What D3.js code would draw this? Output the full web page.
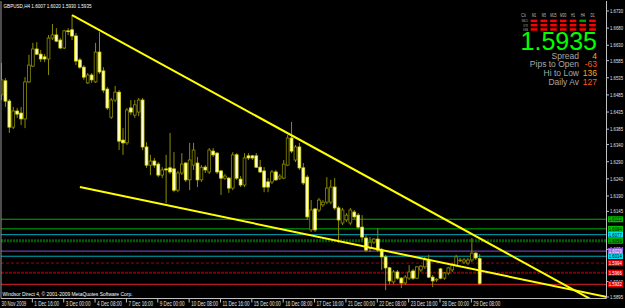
<!DOCTYPE html>
<html><head><meta charset="utf-8">
<script src="https://cdn.jsdelivr.net/npm/d3@7"></script>
<style>html,body{margin:0;padding:0;background:#000;overflow:hidden}svg{display:block}</style>
</head><body>
<svg id="c" width="625" height="308"></svg>
<script>
// ---------- DATA ----------
const symbolTitle = "GBPUSD,H4";
const lastBarText = ["1.6007","1.6020","1.5930","1.5935"];
const open  = [1.6485,1.6526,1.6467,1.6391,1.6438,1.6432,1.6415,1.6523,1.6569,1.6619,1.6604,1.6596,1.6590,1.6651,1.6660,1.6645,1.6622,1.6672,1.6675,1.6657,1.6587,1.6566,1.6520,1.6543,1.6523,1.6610,1.6555,1.6502,1.6420,1.6470,1.6493,1.6353,1.6345,1.6447,1.6426,1.6435,1.6470,1.6333,1.6280,1.6292,1.6283,1.6251,1.6269,1.6272,1.6269,1.6207,1.6257,1.6286,1.6237,1.6280,1.6286,1.6237,1.6274,1.6260,1.6321,1.6315,1.6263,1.6242,1.6242,1.6213,1.6310,1.6239,1.6222,1.6307,1.6307,1.6307,1.6274,1.6263,1.6231,1.6231,1.6260,1.6242,1.6242,1.6280,1.6359,1.6295,1.6333,1.6272,1.6245,1.6091,1.6152,1.6149,1.6164,1.6172,1.6172,1.6216,1.6155,1.6111,1.6120,1.6111,1.6143,1.6134,1.6099,1.6067,1.6038,1.6055,1.6064,1.6032,1.6012,1.5980,1.5939,1.5968,1.5950,1.5936,1.5950,1.5971,1.5950,1.5974,1.5983,1.6003,1.5953,1.5947,1.5977,1.5950,1.5965,1.5974,1.5988,1.6003,1.5997,1.5994,1.6003,1.6023,1.6007];
const high  = [1.6578,1.6534,1.6473,1.6450,1.6447,1.6450,1.6537,1.6602,1.6637,1.6639,1.6616,1.6604,1.6660,1.6692,1.6680,1.6651,1.6675,1.6680,1.6718,1.6666,1.6593,1.6572,1.6549,1.6549,1.6637,1.6669,1.6566,1.6508,1.6476,1.6511,1.6499,1.6388,1.6447,1.6470,1.6470,1.6476,1.6476,1.6347,1.6310,1.6301,1.6289,1.6274,1.6310,1.6374,1.6318,1.6263,1.6315,1.6289,1.6345,1.6345,1.6304,1.6280,1.6280,1.6330,1.6330,1.6318,1.6266,1.6254,1.6245,1.6318,1.6315,1.6248,1.6315,1.6315,1.6310,1.6315,1.6295,1.6274,1.6242,1.6266,1.6266,1.6254,1.6295,1.6368,1.6406,1.6339,1.6345,1.6286,1.6251,1.6178,1.6155,1.6184,1.6178,1.6245,1.6237,1.6242,1.6161,1.6155,1.6140,1.6155,1.6149,1.6140,1.6134,1.6076,1.6070,1.6067,1.6096,1.6038,1.6018,1.5983,1.5974,1.5974,1.5953,1.5959,1.5988,1.5977,1.5985,1.5988,1.6012,1.6018,1.5959,1.5950,1.5980,1.5968,1.5983,1.5994,1.6018,1.6009,1.6009,1.6009,1.6067,1.6026,1.6020];
const low   = [1.6470,1.6450,1.6374,1.6385,1.6418,1.6397,1.6388,1.6520,1.6566,1.6602,1.6581,1.6581,1.6543,1.6645,1.6639,1.6619,1.6619,1.6660,1.6645,1.6572,1.6561,1.6529,1.6517,1.6520,1.6520,1.6546,1.6491,1.6441,1.6415,1.6464,1.6324,1.6310,1.6339,1.6426,1.6418,1.6423,1.6324,1.6272,1.6251,1.6272,1.6245,1.6242,1.6169,1.6254,1.6201,1.6201,1.6251,1.6231,1.6207,1.6266,1.6216,1.6231,1.6257,1.6254,1.6304,1.6254,1.6193,1.6237,1.6199,1.6207,1.6237,1.6216,1.6216,1.6295,1.6295,1.6272,1.6257,1.6201,1.6201,1.6225,1.6234,1.6237,1.6239,1.6277,1.6315,1.6289,1.6266,1.6222,1.6120,1.6085,1.6085,1.6143,1.6158,1.6166,1.6166,1.6149,1.6053,1.6105,1.6114,1.6105,1.6123,1.6093,1.6061,1.6026,1.6026,1.6050,1.6026,1.5974,1.5915,1.5933,1.5933,1.5945,1.5921,1.5930,1.5945,1.5945,1.5947,1.5968,1.5977,1.5950,1.5924,1.5939,1.5947,1.5945,1.5959,1.5968,1.5983,1.5997,1.5991,1.5988,1.5997,1.6003,1.5930];
const close = [1.6529,1.6467,1.6391,1.6438,1.6429,1.6415,1.6523,1.6572,1.6619,1.6604,1.6590,1.6590,1.6651,1.6660,1.6642,1.6622,1.6672,1.6670,1.6657,1.6584,1.6566,1.6537,1.6543,1.6529,1.6610,1.6552,1.6499,1.6447,1.6470,1.6493,1.6350,1.6345,1.6441,1.6435,1.6456,1.6470,1.6333,1.6280,1.6292,1.6280,1.6251,1.6266,1.6266,1.6260,1.6207,1.6257,1.6283,1.6237,1.6295,1.6324,1.6237,1.6274,1.6266,1.6324,1.6310,1.6260,1.6242,1.6248,1.6213,1.6310,1.6242,1.6222,1.6301,1.6301,1.6301,1.6274,1.6260,1.6216,1.6216,1.6260,1.6237,1.6248,1.6283,1.6359,1.6321,1.6333,1.6272,1.6228,1.6129,1.6149,1.6091,1.6178,1.6172,1.6213,1.6216,1.6155,1.6120,1.6149,1.6134,1.6149,1.6129,1.6099,1.6070,1.6032,1.6055,1.6064,1.6032,1.6012,1.5980,1.5942,1.5968,1.5950,1.5936,1.5953,1.5968,1.5950,1.5983,1.5985,1.6003,1.5953,1.5942,1.5947,1.5950,1.5965,1.5980,1.5988,1.6012,1.6003,1.6003,1.6003,1.6023,1.6009,1.5935];
const priceTicks = ["1.6730","1.6680","1.6630","1.6585","1.6535","1.6485","1.6435","1.6385","1.6340","1.6290","1.6240","1.6190","1.6145","1.6034","1.5940","1.5895"];
const timeLabels = ["30 Nov 2009","1 Dec 16:00","3 Dec 00:00","4 Dec 08:00","7 Dec 16:00","9 Dec 00:00","10 Dec 08:00","11 Dec 16:00","15 Dec 00:00","16 Dec 08:00","17 Dec 16:00","21 Dec 00:00","22 Dec 08:00","23 Dec 16:00","28 Dec 00:00","29 Dec 08:00"];
const timeLabelBars = [0,8,16,24,32,40,48,56,64,72,80,88,96,104,112,120];
const levelPrices = [1.6122,1.6094,1.6077,1.6059,1.6029,1.6014,1.5994,1.5966,1.5932];
const levelKinds  = ["g","g","c","dg","p","c","dr","ddr","r"];
const trendUpper = [[18,1.6718],[74,1.6367]];
const trendLower = [[20,1.6216],[92,1.6044]];
const dashTimeframes = ["M1","M5","M15","M30","H1","H4","D1"];
const dashRows = ["MACD","STR","EMA"];
const dashState = [[0,0,0,0,0,1,0],[0,0,0,0,0,0,0],[0,0,0,0,0,0,0]];
const bigPrice = "1.5935";
const infoLabels = ["Spread","Pips to Open","Hi to Low","Daily Av"];
const infoValues = ["4","-63","136","127"];
const footer = "Windsor Direct 4, \u00A9 2001-2009 MetaQuotes Software Corp.";

// ---------- STYLE ----------
const levelStyle = {
  g:{c:"#00b000",w:1,d:null,box:"#00c000",t:"#000"},
  c:{c:"#00a8b8",w:1,d:null,box:"#00e0f0",t:"#000"},
  dg:{c:"#006000",w:3,d:"2,1",box:"#00b000",t:"#000"},
  p:{c:"#8050d0",w:1,d:null,box:"#9060e0",t:"#fff"},
  dr:{c:"#a00000",w:1,d:"3,2",box:"#e00000",t:"#fff"},
  ddr:{c:"#800000",w:2,d:"3,1",box:"#e00000",t:"#fff"},
  r:{c:"#e02020",w:1,d:null,box:"#e00000",t:"#fff"}
};
const FONT = "Liberation Sans, Arial, sans-serif";
const L = 1, R = 606.5, T = 1, B = 298.5;

const svg = d3.select("#c");
const x = d3.scaleLinear().domain([0,122]).range([1.5,479.7]);
const y = d3.scaleLinear().domain([1.5895,1.6730]).range([297,11]);

function fit(sel, w){ return sel.attr("textLength",w).attr("lengthAdjust","spacingAndGlyphs"); }

svg.append("defs").append("clipPath").attr("id","clip")
  .append("rect").attr("x",L).attr("y",T).attr("width",R-L).attr("height",B-T);
const plot = svg.append("g").attr("clip-path","url(#clip)");

// levels
levelPrices.forEach((p,i)=>{
  const s = levelStyle[levelKinds[i]];
  plot.append("line").attr("x1",L).attr("x2",R).attr("y1",y(p)).attr("y2",y(p))
    .attr("stroke",s.c).attr("stroke-width",s.w).attr("stroke-dasharray",s.d);
});

// candles
const bars = d3.range(open.length).map(i=>({i,o:open[i],h:high[i],l:low[i],c:close[i]}));
const cg = plot.append("g");
cg.selectAll("line.w").data(bars).join("line")
  .attr("x1",d=>x(d.i)).attr("x2",d=>x(d.i)).attr("y1",d=>y(d.h)).attr("y2",d=>y(d.l))
  .attr("stroke","#8c8c00").attr("stroke-width",1);
cg.selectAll("rect").data(bars).join("rect")
  .attr("x",d=>x(d.i)-1.4).attr("width",2.8)
  .attr("y",d=>y(Math.max(d.o,d.c)))
  .attr("height",d=>Math.max(0.8,Math.abs(y(d.o)-y(d.c))))
  .attr("fill",d=>d.c>=d.o?"#000":"#ffffd8")
  .attr("stroke",d=>d.c>=d.o?"#8c8c00":"#e0e000").attr("stroke-width",0.8);

// trend lines (rays)
function ray(pts){
  const [a,b] = pts;
  const xe = x.invert(R+5);
  const slope = (b[1]-a[1])/(b[0]-a[0]);
  return [[x(a[0]),y(a[1])],[x(xe),y(a[1]+slope*(xe-a[0]))]];
}
[trendUpper,trendLower].forEach(t=>{
  const s = ray(t);
  plot.append("line").attr("x1",s[0][0]).attr("y1",s[0][1]).attr("x2",s[1][0]).attr("y2",s[1][1])
    .attr("stroke","#ffff00").attr("stroke-width",2);
});

// frame
svg.append("line").attr("x1",L).attr("x2",L).attr("y1",T).attr("y2",B).attr("stroke","#9a9a9a");
svg.append("line").attr("x1",R).attr("x2",R).attr("y1",T).attr("y2",B).attr("stroke","#c0c0c0");
svg.append("line").attr("x1",L).attr("x2",R).attr("y1",B).attr("y2",B).attr("stroke","#c0c0c0");

// price axis
const ax = svg.append("g");
priceTicks.forEach(t=>{
  const yy = y(+t);
  ax.append("line").attr("x1",R).attr("x2",R+2.5).attr("y1",yy).attr("y2",yy).attr("stroke","#c0c0c0");
  fit(ax.append("text").attr("x",R+3.5).attr("y",yy+2).text(t)
    .attr("fill","#e0e0e0").attr("font-family",FONT).attr("font-size",6), 13);
});
// level price boxes
levelPrices.forEach((p,i)=>{
  const s = levelStyle[levelKinds[i]];
  const yy = y(p);
  ax.append("rect").attr("x",R+1.5).attr("y",yy-3).attr("width",15).attr("height",6).attr("fill",s.box);
  fit(ax.append("text").attr("x",R+2.3).attr("y",yy+2).text(p.toFixed(4))
    .attr("fill",s.t).attr("font-family",FONT).attr("font-size",5.5), 13);
});

// time axis
timeLabelBars.forEach((b,k)=>{
  const xx = x(b)-0.5;
  if(k>0) svg.append("line").attr("x1",xx).attr("x2",xx).attr("y1",B).attr("y2",B+4).attr("stroke","#c0c0c0");
  fit(svg.append("text").attr("x",k===0?1.5:xx+2).attr("y",306).text(timeLabels[k])
    .attr("fill","#e0e0e0").attr("font-family",FONT).attr("font-size",6.5), timeLabels[k].length*2.25);
});

// header / footer
fit(svg.append("text").attr("x",3.5).attr("y",8).text(symbolTitle+"  "+lastBarText.join(" "))
  .attr("fill","#ffffff").attr("font-family",FONT).attr("font-size",6), 88);
fit(svg.append("text").attr("x",2.5).attr("y",296).text(footer)
  .attr("fill","#ffffff").attr("font-family",FONT).attr("font-size",6), 130);

// dashboard
const dg = svg.append("g");
const colX = d3.scalePoint().domain(dashTimeframes).range([534,592.5]);
fit(dg.append("text").attr("x",521).attr("y",16.5).text("Cit").attr("fill","#b0b0b0").attr("font-family",FONT).attr("font-size",4.5),5);
dashTimeframes.forEach(tf=>{
  fit(dg.append("text").attr("x",colX(tf)).attr("y",16.5).attr("text-anchor","middle").text(tf)
    .attr("fill","#c0c0c0").attr("font-family",FONT).attr("font-size",4.5), tf.length*2.1);
});
dashRows.forEach((r,ri)=>{
  const yy = 21+ri*4.3;
  fit(dg.append("text").attr("x",528).attr("y",yy+1.2).attr("text-anchor","end").text(r)
    .attr("fill","#a0a0a0").attr("font-family",FONT).attr("font-size",3.2), r.length*1.55);
  dashTimeframes.forEach((tf,ci)=>{
    dg.append("rect").attr("x",colX(tf)-3.3).attr("y",yy-1.4).attr("width",6.6).attr("height",2.5)
      .attr("fill",dashState[ri][ci]?"#00a000":"#ff0000");
  });
});
dg.append("text").attr("x",597).attr("y",50).attr("text-anchor","end").text(bigPrice)
  .attr("fill","#00ff00").attr("font-family",FONT).attr("font-size",25);
infoLabels.forEach((t,i)=>{
  const yy = 58.5+i*8.7;
  dg.append("text").attr("x",579).attr("y",yy).attr("text-anchor","end").text(t)
    .attr("fill","#a8a8a8").attr("font-family",FONT).attr("font-size",8.5);
  dg.append("text").attr("x",597).attr("y",yy).attr("text-anchor","end").text(infoValues[i])
    .attr("fill",i===1||i===3?"#ff5a1e":"#ffa020").attr("font-family",FONT).attr("font-size",8.5);
});
</script>
</body></html>
